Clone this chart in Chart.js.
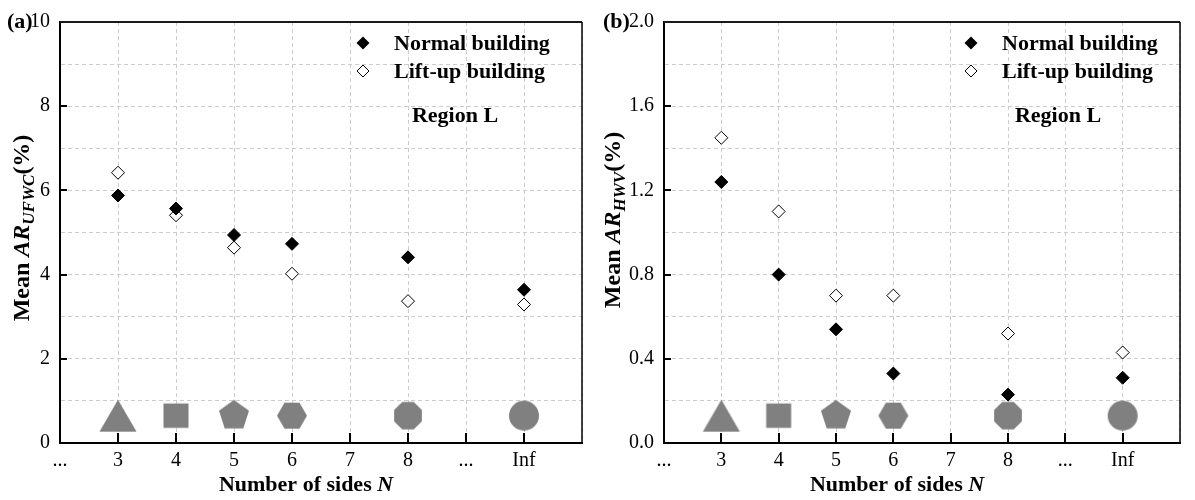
<!DOCTYPE html>
<html><head><meta charset="utf-8">
<script src="https://cdn.jsdelivr.net/npm/chart.js@4.4.0/dist/chart.umd.min.js"></script>
<style>
html,body{margin:0;padding:0;background:#fff;}
#wrap{position:relative;width:1195px;height:500px;background:#fff;}
#c1{position:absolute;left:0;top:0;}
#c2{position:absolute;left:597px;top:0;}
</style></head><body>
<div id="wrap"><canvas id="c1" width="597" height="500"></canvas><canvas id="c2" width="598" height="500"></canvas></div>
<script>
// ---- data ----
const categories = ['...', '3', '4', '5', '6', '7', '8', '...', 'Inf'];
const sides = ['3', '4', '5', '6', '8', 'Inf'];
const normalUFWC = [5.88, 5.57, 4.94, 4.73, 4.41, 3.64];
const liftUFWC   = [6.42, 5.41, 4.64, 4.02, 3.37, 3.29];
const normalHWV  = [1.24, 0.80, 0.54, 0.33, 0.23, 0.31];
const liftHWV    = [1.45, 1.10, 0.70, 0.70, 0.52, 0.43];
const shapeNames = ['triangle', 'square', 'pentagon', 'hexagon', 'octagon', 'circle'];
const shapeLevelUFWC = 0.65;
const shapeLevelHWV = 0.13;
const yTicksUFWC = ['0', '2', '4', '6', '8', '10'];
const yTicksHWV = ['0.0', '0.4', '0.8', '1.2', '1.6', '2.0'];
const legendLabels = ['Normal building', 'Lift-up building'];

const SERIF = "'Liberation Serif', 'Times New Roman', serif";
const GRAY = '#808080';
const GRID = '#cccccc';

function shapeCanvas(name) {
  const c = document.createElement('canvas');
  c.width = 44; c.height = 44;
  const g = c.getContext('2d');
  g.fillStyle = GRAY;
  const cx = 22, cy = 22;
  g.beginPath();
  const poly = (n, R, rot) => {
    for (let k = 0; k < n; k++) {
      const a = rot + k * 2 * Math.PI / n;
      const px = cx + R * Math.cos(a), py = cy + R * Math.sin(a);
      if (k === 0) g.moveTo(px, py); else g.lineTo(px, py);
    }
    g.closePath();
  };
  if (name === 'triangle') {
    g.moveTo(cx, cy - 16); g.lineTo(cx + 18.5, cy + 16); g.lineTo(cx - 18.5, cy + 16); g.closePath();
  } else if (name === 'square') {
    g.rect(cx - 12.5, cy - 12.2, 25, 24.4);
  } else if (name === 'pentagon') {
    poly(5, 15.8, -Math.PI / 2);
  } else if (name === 'hexagon') {
    poly(6, 15, 0);
  } else if (name === 'octagon') {
    poly(8, 15, Math.PI / 8);
  } else {
    g.arc(cx, cy, 15, 0, Math.PI * 2);
  }
  g.fill();
  return c;
}

function drawRich(ctx, parts, x, y, align) {
  let total = 0;
  parts.forEach(p => { ctx.font = p.font; p.w = ctx.measureText(p.t).width; total += p.w; });
  let cx = align === 'center' ? x - total / 2 : x;
  ctx.textAlign = 'left'; ctx.textBaseline = 'alphabetic';
  parts.forEach(p => { ctx.font = p.font; ctx.fillText(p.t, cx, y + (p.dy || 0)); cx += p.w; });
}

function diamond(ctx, x, y, r, filled) {
  ctx.beginPath();
  ctx.moveTo(x, y - r); ctx.lineTo(x + r, y); ctx.lineTo(x, y + r); ctx.lineTo(x - r, y); ctx.closePath();
  if (filled) { ctx.fillStyle = '#000'; ctx.fill(); }
  else { ctx.fillStyle = '#fff'; ctx.fill(); ctx.lineWidth = 1; ctx.strokeStyle = '#000'; ctx.stroke(); }
}

function makeChart(canvas, cfg) {
  const xOf = s => categories.indexOf(s);
  const decor = {
    id: 'decor',
    afterDraw(chart) {
      const ctx = chart.ctx, ca = chart.chartArea;
      const xs = chart.scales.x, ys = chart.scales.y;
      ctx.save();
      // inside tick marks
      ctx.strokeStyle = '#000'; ctx.lineWidth = 2;
      for (let i = 1; i < categories.length; i++) {
        const px = Math.round(xs.getPixelForValue(i));
        ctx.beginPath(); ctx.moveTo(px, ca.bottom); ctx.lineTo(px, ca.bottom - 10); ctx.stroke();
      }
      cfg.yTickLabels.forEach(l => {
        const py = Math.round(ys.getPixelForValue(parseFloat(l)));
        ctx.beginPath(); ctx.moveTo(ca.left, py); ctx.lineTo(ca.left + 7, py); ctx.stroke();
      });
      // top and right frame
      ctx.strokeStyle = '#1a1a1a'; ctx.lineWidth = 2;
      ctx.beginPath(); ctx.moveTo(ca.left, ca.top); ctx.lineTo(ca.right, ca.top); ctx.stroke();
      ctx.lineWidth = 1.5; ctx.strokeStyle = '#000';
      ctx.beginPath(); ctx.moveTo(ca.right, ca.top); ctx.lineTo(ca.right, ca.bottom); ctx.stroke();
      // panel label
      ctx.fillStyle = '#000';
      ctx.font = 'bold 22px ' + SERIF; ctx.textAlign = 'left'; ctx.textBaseline = 'middle';
      ctx.fillText(cfg.panel, cfg.panelX, ca.top);
      // legend
      diamond(ctx, cfg.legX, 43, 6.5, true);
      diamond(ctx, cfg.legX, 71, 6, false);
      ctx.fillStyle = '#000';
      ctx.font = 'bold 22px ' + SERIF; ctx.textAlign = 'left'; ctx.textBaseline = 'middle';
      ctx.fillText(legendLabels[0], cfg.legTextX, 44);
      ctx.fillText(legendLabels[1], cfg.legTextX, 72);
      ctx.textAlign = 'center';
      ctx.fillText('Region L', cfg.regionX, 116);
      // x title
      ctx.fillStyle = '#000';
      drawRich(ctx, [
        { t: 'Number of sides ', font: 'bold 22px ' + SERIF },
        { t: 'N', font: 'italic bold 22px ' + SERIF }
      ], cfg.xTitleX, 491, 'center');
      // y title (rotated)
      ctx.translate(cfg.yTitleX, cfg.yTitleY);
      ctx.rotate(-Math.PI / 2);
      drawRich(ctx, [
        { t: 'Mean ', font: 'bold 24px ' + SERIF },
        { t: 'AR', font: 'italic bold 24px ' + SERIF },
        { t: cfg.sub, font: 'italic bold 17px ' + SERIF, dy: 5 },
        { t: '(%)', font: 'bold 24px ' + SERIF }
      ], 0, 0, 'center');
      ctx.restore();
    }
  };
  return new Chart(canvas, {
    type: 'scatter',
    data: {
      datasets: [
        { label: legendLabels[0], data: sides.map((s, i) => ({ x: xOf(s), y: cfg.normal[i] })),
          pointStyle: 'rectRot', pointRadius: 6.5, backgroundColor: '#000', borderColor: '#000', borderWidth: 1 },
        { label: legendLabels[1], data: sides.map((s, i) => ({ x: xOf(s), y: cfg.lift[i] })),
          pointStyle: 'rectRot', pointRadius: 6.5, backgroundColor: '#fff', borderColor: '#000', borderWidth: 1 },
        { label: 'shapes', data: sides.map((s, i) => ({ x: xOf(s), y: cfg.shapeLevel })),
          pointStyle: shapeNames.map(shapeCanvas), pointRadius: 15, backgroundColor: GRAY, borderWidth: 0 }
      ]
    },
    options: {
      responsive: false, animation: false, devicePixelRatio: 1,
      layout: { padding: { top: 15, right: cfg.padRight, left: 0, bottom: 0 } },
      plugins: { legend: { display: false }, tooltip: { enabled: false } },
      scales: {
        x: {
          type: 'linear', min: 0, max: 9,
          afterFit(s) { s.height = 57; },
          ticks: { stepSize: 1, autoSkip: false, maxRotation: 0, padding: 6, color: '#000',
            font: { family: SERIF, size: 20 },
            callback: v => (Number.isInteger(v) && categories[v] !== undefined) ? categories[v] : '' },
          grid: { color: GRID, lineWidth: 1, drawTicks: false },
          border: { display: true, color: '#000', width: 2, dash: [4, 3] }
        },
        y: {
          type: 'linear', min: 0, max: cfg.yMax,
          afterFit(s) { s.width = cfg.yWidth; },
          ticks: { stepSize: cfg.yStep, autoSkip: false, padding: 10, color: '#000',
            font: { family: SERIF, size: 20 },
            callback: v => { const t = cfg.yTickLabels.find(l => Math.abs(parseFloat(l) - v) < 1e-6); return t === undefined ? '' : t; } },
          grid: { color: GRID, lineWidth: 1, drawTicks: false },
          border: { display: true, color: '#000', width: 2, dash: [4, 3] }
        }
      }
    },
    plugins: [decor]
  });
}

makeChart(document.getElementById('c1'), {
  normal: normalUFWC, lift: liftUFWC, shapeLevel: shapeLevelUFWC,
  yMax: 10, yStep: 1, yTickLabels: yTicksUFWC, yWidth: 60, padRight: 8.5,
  panel: '(a)', panelX: 7, legX: 363, legTextX: 394, regionX: 455,
  xTitleX: 306, yTitleX: 28.5, yTitleY: 228, sub: 'UFWC'
});
makeChart(document.getElementById('c2'), {
  normal: normalHWV, lift: liftHWV, shapeLevel: shapeLevelHWV,
  yMax: 2.0, yStep: 0.2, yTickLabels: yTicksHWV, yWidth: 67, padRight: 5.3,
  panel: '(b)', panelX: 6, legX: 374, legTextX: 405, regionX: 461,
  xTitleX: 300, yTitleX: 22.5, yTitleY: 220, sub: 'HWV'
});
</script>
</body></html>
